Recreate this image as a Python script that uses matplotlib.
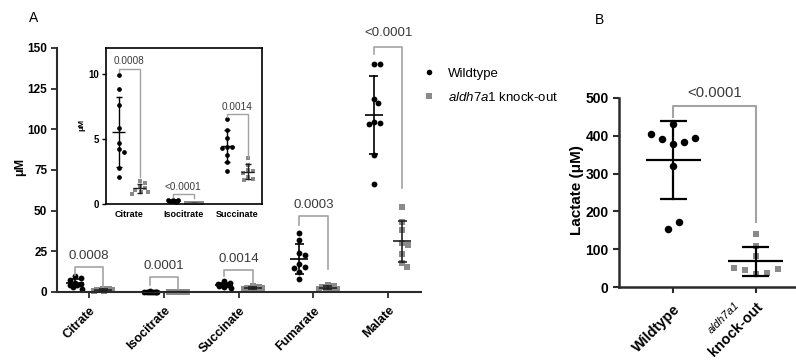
import numpy as np
import matplotlib
matplotlib.use("Agg")
import matplotlib.pyplot as plt
from matplotlib import transforms
from matplotlib.lines import Line2D

plt.rcParams['font.family'] = ['Liberation Sans', 'DejaVu Sans']
plt.rcParams['mathtext.fontset'] = 'custom'
plt.rcParams['mathtext.it'] = 'Liberation Sans:italic'
plt.rcParams['mathtext.rm'] = 'Liberation Sans'

# ---------------- data ----------------
categories = ['Citrate', 'Isocitrate', 'Succinate', 'Fumarate', 'Malate']
inset_categories = ['Citrate', 'Isocitrate', 'Succinate']

citrate_wt = [9.9, 8.8, 7.6, 5.8, 4.7, 4.2, 4.0, 2.8, 2.1]
citrate_ko = [1.8, 1.6, 1.3, 1.2, 1.1, 0.95, 0.9, 0.8]
isocitrate_wt = [0.32, 0.30, 0.28, 0.26, 0.25, 0.24, 0.22, 0.20, 0.18]
isocitrate_ko = [0.08, 0.07, 0.06, 0.06, 0.05, 0.05, 0.04, 0.04]
succinate_wt = [6.5, 5.7, 5.1, 4.4, 4.4, 4.3, 3.8, 3.2, 2.5]
succinate_ko = [3.5, 3.0, 2.6, 2.5, 2.4, 2.1, 1.9, 1.85]
fumarate_wt = [36.1, 32.0, 23.8, 22.7, 17.0, 15.6, 15.0, 12.5, 8.0]
fumarate_ko = [4.2, 3.5, 3.0, 2.6, 2.3, 2.0, 1.8, 1.5]
malate_wt = [140.1, 140.1, 118.6, 116.1, 104.8, 103.6, 103.1, 84.2, 66.2]
malate_ko = [52.1, 43.2, 38.1, 29.9, 28.9, 23.4, 17.8, 15.5]

wt_groups = [citrate_wt, isocitrate_wt, succinate_wt, fumarate_wt, malate_wt]
ko_groups = [citrate_ko, isocitrate_ko, succinate_ko, fumarate_ko, malate_ko]

main_pvalues = ['0.0008', '0.0001', '0.0014', '0.0003', '<0.0001']
main_bracket_top = [15.4, 9.2, 13.4, 46.6, 150.4]
main_bracket_left = [10.3, 4.1, 10.0, 40.9, 146.3]
main_bracket_right = [2.7, 1.8, 5.0, 14.4, 63.7]

inset_pvalues = ['0.0008', '<0.0001', '0.0014']
inset_bracket_top = [10.4, 0.77, 6.9]
inset_bracket_left = [10.1, 0.56, 6.7]
inset_bracket_right = [2.1, 0.43, 3.6]

lactate_groups = ['Wildtype', 'aldh7a1 knock-out']
lactate_wt = [430.6, 404.0, 391.0, 377.9, 382.0, 394.6, 320.7, 152.9, 171.4]
lactate_ko = [139.7, 109.8, 82.6, 51.8, 45.7, 35.1, 36.9, 48.3]
lactate_pvalue = '<0.0001'
lactate_bracket = [478, 448, 173]

legend_labels = ['Wildtype', r'$\mathit{aldh7a1}$ knock-out']

WT_COLOR = 'black'
KO_COLOR = '#8a8a8a'
BRACKET_COLOR = '#a3a3a3'
TEXT_GRAY = '#3a3a3a'
SPINE = '#2b2b2b'

W, H = 796, 362
fig = plt.figure(figsize=(W / 100, H / 100), dpi=100)


def fr(x0, y0, x1, y1):
    return [x0 / W, 1 - y1 / H, (x1 - x0) / W, (y1 - y0) / H]


def _px(ax, x0, vals):
    vals = np.asarray(vals, float)
    base = ax.transData.transform((x0, ax.get_ylim()[0]))[1]
    py = ax.transData.transform(np.column_stack([np.full(len(vals), x0), vals]))[:, 1] - base
    ppu = ax.transData.transform((1, 0))[0] - ax.transData.transform((0, 0))[0]
    return py, ppu


def swarm_rows(ax, x0, vals, d_px, maxhw_px):
    py, ppu = _px(ax, x0, vals)
    bins = np.floor(py / d_px).astype(int)
    offs = np.zeros(len(py))
    for b in np.unique(bins):
        idx = np.where(bins == b)[0]
        n = len(idx)
        if n > 1:
            sp = min(d_px, 2 * maxhw_px / (n - 1))
            offs[idx] = (np.arange(n) - (n - 1) / 2) * sp
    return x0 + offs / ppu


def swarm_greedy(ax, x0, vals, d_px, maxhw_px):
    py, ppu = _px(ax, x0, vals)
    cands = [0.0]
    k = 1
    while k <= maxhw_px:
        cands += [float(k), float(-k)]
        k += 1
    placed = []
    offs = np.zeros(len(py))
    for i, y in enumerate(py):
        best, bestd = 0.0, -1
        chosen = None
        for c in cands:
            if placed:
                dmin = min(np.hypot(c - px_, y - py_) for px_, py_ in placed)
            else:
                dmin = np.inf
            if dmin >= d_px:
                chosen = c
                break
            if dmin > bestd:
                best, bestd = c, dmin
        if chosen is None:
            chosen = best
        offs[i] = chosen
        placed.append((chosen, y))
    return x0 + offs / ppu


def errbar(ax, x, vals, hw, cw, lw, color='black'):
    m = np.mean(vals)
    s = np.std(vals, ddof=1)
    ax.plot([x - hw, x + hw], [m, m], color=color, lw=lw, zorder=4, solid_capstyle='butt')
    ax.plot([x, x], [m - s, m + s], color=color, lw=lw, zorder=4)
    ax.plot([x - cw, x + cw], [m + s, m + s], color=color, lw=lw, zorder=4, solid_capstyle='butt')
    ax.plot([x - cw, x + cw], [m - s, m - s], color=color, lw=lw, zorder=4, solid_capstyle='butt')


def bracket(ax, xl, xr, top, yl, yr, label, fs, lw, gap):
    ax.plot([xl, xl, xr, xr], [yl, top, top, yr], color=BRACKET_COLOR, lw=lw,
            clip_on=False, zorder=3)
    ax.annotate(label, ((xl + xr) / 2, top), xytext=(0, gap), textcoords='offset points',
                ha='center', va='bottom', fontsize=fs, color=TEXT_GRAY, annotation_clip=False)


# ---------------- panel A main ----------------
axA = fig.add_axes(fr(57, 48, 421, 292))
axA.set_xlim(-0.43, 4.44)
axA.set_ylim(0, 150)
for sp in ['top', 'right']:
    axA.spines[sp].set_visible(False)
for sp in ['left', 'bottom']:
    axA.spines[sp].set_linewidth(1.5)
    axA.spines[sp].set_color(SPINE)
axA.set_yticks(np.arange(0, 151, 25))
axA.set_yticklabels([str(v) for v in range(0, 151, 25)], fontweight='bold', fontsize=8.5)
axA.set_xticks(range(len(categories)))
axA.set_xticklabels(categories, rotation=45, ha='right', rotation_mode='anchor',
                    fontweight='bold', fontsize=9)
axA.tick_params(axis='both', length=4, width=1.3, color=SPINE, pad=3)
axA.tick_params(axis='x', pad=5)

off = 0.19
for i in range(len(categories)):
    xw = swarm_greedy(axA, i - off, wt_groups[i], 5.5, 7)
    xk = swarm_greedy(axA, i + off, ko_groups[i], 5.5, 9)
    axA.plot(xw, wt_groups[i], 'o', color=WT_COLOR, ms=4.2, mew=0, zorder=2, clip_on=False)
    axA.plot(xk, ko_groups[i], 's', color=KO_COLOR, ms=3.8, mew=0, zorder=2, clip_on=False)
    errbar(axA, i - off, wt_groups[i], 0.12, 0.06, 1.2)
    errbar(axA, i + off, ko_groups[i], 0.12, 0.06, 1.2, color='#222222')
    bracket(axA, i - off, i + off, main_bracket_top[i], main_bracket_left[i],
            main_bracket_right[i], main_pvalues[i], 9.5, 1.2, 3.5 if i < 4 else 6)

fig.text(20 / W, 1 - 167 / H, 'μM', rotation=90, ha='center', va='center',
         fontweight='bold', fontsize=9)

# ---------------- inset ----------------
axI = fig.add_axes(fr(106, 47.7, 261.7, 204))
axI.set_xlim(-0.43, 2.45)
axI.set_ylim(0, 12)
for sp in axI.spines.values():
    sp.set_linewidth(1.2)
    sp.set_color('black')
axI.set_yticks([0, 5, 10])
axI.set_yticklabels(['0', '5', '10'], fontweight='bold', fontsize=7)
axI.set_xticks(range(len(inset_categories)))
axI.set_xticklabels(inset_categories, fontweight='bold', fontsize=6.5)
axI.tick_params(axis='x', length=0, pad=4)
axI.tick_params(axis='y', length=3, width=1, pad=2)
for i in range(len(inset_categories)):
    xw = swarm_greedy(axI, i - off, wt_groups[i], 5.0, 5.5)
    xk = swarm_greedy(axI, i + off, ko_groups[i], 5.0, 8)
    axI.plot(xw, wt_groups[i], 'o', color=WT_COLOR, ms=3.4, mew=0, zorder=2, clip_on=False)
    axI.plot(xk, ko_groups[i], 's', color=KO_COLOR, ms=3.2, mew=0, zorder=2, clip_on=False)
    errbar(axI, i - off, wt_groups[i], 0.12, 0.055, 1.0)
    errbar(axI, i + off, ko_groups[i], 0.12, 0.055, 1.0, color='#222222')
    bracket(axI, i - off, i + off, inset_bracket_top[i], inset_bracket_left[i],
            inset_bracket_right[i], inset_pvalues[i], 7.2, 1.0, 1.5)
fig.text(82 / W, 1 - 125 / H, 'μM', rotation=90, ha='center', va='center',
         fontweight='bold', fontsize=6)

# ---------------- legend ----------------
handles = [Line2D([], [], marker='o', ls='none', color=WT_COLOR, ms=4, mew=0),
           Line2D([], [], marker='s', ls='none', color=KO_COLOR, ms=3.8, mew=0)]
fig.legend(handles, legend_labels, loc='center left', bbox_to_anchor=(422 / W, 1 - 85.5 / H),
           frameon=False, fontsize=9.5, handlelength=1.0, handletextpad=1.0,
           labelspacing=0.85, borderaxespad=0, borderpad=0)

# ---------------- panel B ----------------
axB = fig.add_axes(fr(619, 97.7, 796, 287.3))
axB.set_xlim(-0.66, 1.49)
axB.set_ylim(0, 500)
for sp in ['top', 'right']:
    axB.spines[sp].set_visible(False)
for sp in ['left', 'bottom']:
    axB.spines[sp].set_linewidth(1.8)
    axB.spines[sp].set_color(SPINE)
axB.set_yticks(np.arange(0, 501, 100))
axB.set_yticklabels([str(v) for v in range(0, 501, 100)], fontweight='bold', fontsize=10)
axB.set_xticks([0, 1])
axB.set_xticklabels(['Wildtype', ''], rotation=45, ha='right', rotation_mode='anchor',
                    fontweight='bold', fontsize=10.5)
axB.tick_params(axis='both', length=4.5, width=1.5, color=SPINE, pad=3)
axB.tick_params(axis='x', pad=6)

xw = swarm_rows(axB, 0, lactate_wt, 11, 30)
xk = swarm_rows(axB, 1, lactate_ko, 11, 30)
axB.plot(xw, lactate_wt, 'o', color=WT_COLOR, ms=5.4, mew=0, zorder=2, clip_on=False)
axB.plot(xk, lactate_ko, 's', color=KO_COLOR, ms=5.0, mew=0, zorder=2, clip_on=False)
errbar(axB, 0, lactate_wt, 0.33, 0.165, 1.6)
errbar(axB, 1, lactate_ko, 0.33, 0.165, 1.6)
bracket(axB, 0, 1, lactate_bracket[0], lactate_bracket[1], lactate_bracket[2],
        lactate_pvalue, 10.7, 1.5, 4)

fig.text(577 / W, 1 - 190 / H, 'Lactate (μM)', rotation=90, ha='center', va='center',
         fontweight='bold', fontsize=11)

# two-line KO tick label: italic gene name above bold "knock-out"
renderer = fig.canvas.get_renderer()
tmp = fig.text(0, 0, 'knock-out', fontweight='bold', fontsize=10.5)
bb = tmp.get_window_extent(renderer)
tmp.remove()
wpx, hpx = bb.width, bb.height
padpx = 4.5 + 6 * 100 / 72
c, s_ = np.cos(np.pi / 4), np.sin(np.pi / 4)
axB.text(1, 0, 'knock-out', transform=axB.transData + transforms.ScaledTranslation(0, -padpx / 100, fig.dpi_scale_trans),
         rotation=45, ha='right', va='top', rotation_mode='anchor', fontweight='bold', fontsize=10.5)
along = -wpx / 2
perp = -hpx / 2 + 17
dx = along * c - perp * s_
dy = along * s_ + perp * c - padpx
axB.text(1, 0, 'aldh7a1', transform=axB.transData + transforms.ScaledTranslation(dx / 100, dy / 100, fig.dpi_scale_trans),
         rotation=45, ha='center', va='center', rotation_mode='anchor', fontstyle='italic', fontsize=8)

# panel letters
fig.text(34 / W, 1 - 18 / H, 'A', ha='center', va='center', fontsize=10)
fig.text(599 / W, 1 - 20 / H, 'B', ha='center', va='center', fontsize=10)

fig.savefig('out.png', dpi=100)
